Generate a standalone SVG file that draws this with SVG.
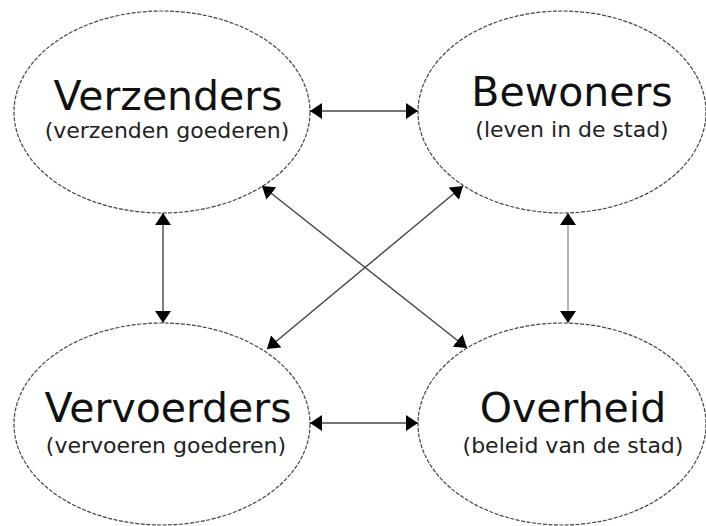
<svg xmlns="http://www.w3.org/2000/svg" width="706" height="526" viewBox="0 0 706 526">
  <style>
    .node ellipse { fill: #ffffff; stroke: #444444; stroke-width: 1.2; stroke-dasharray: 4 1.5; }
    .title { font-family: "DejaVu Sans", Verdana, sans-serif; font-size: 41px; fill: #111111; text-anchor: middle; }
    .sub { font-family: "DejaVu Sans", Verdana, sans-serif; font-size: 22px; fill: #222222; text-anchor: middle; }
    .link { stroke: #444444; stroke-width: 1.4; fill: none; marker-start: url(#head); marker-end: url(#head); }
    .light { stroke: #999999; }
  </style>
  <defs>
    <marker id="head" viewBox="0 0 12 16" refX="12" refY="8" markerWidth="12" markerHeight="16" markerUnits="userSpaceOnUse" orient="auto-start-reverse">
      <path d="M0,0 L12,8 L0,16 Z" fill="#000000"/>
    </marker>
  </defs>
  <rect width="706" height="526" fill="#ffffff"/>

  <g id="verzenders" class="node">
    <ellipse cx="162" cy="112" rx="148" ry="101"/>
    <text class="title" x="168" y="110">Verzenders</text>
    <text class="sub" x="167" y="138">(verzenden goederen)</text>
  </g>

  <g id="bewoners" class="node">
    <ellipse cx="562" cy="112" rx="144" ry="101"/>
    <text class="title" x="572" y="106">Bewoners</text>
    <text class="sub" x="572" y="137">(leven in de stad)</text>
  </g>

  <g id="vervoerders" class="node">
    <ellipse cx="162" cy="424" rx="148" ry="101"/>
    <text class="title" x="168" y="422">Vervoerders</text>
    <text class="sub" x="166" y="453">(vervoeren goederen)</text>
  </g>

  <g id="overheid" class="node">
    <ellipse cx="562" cy="424" rx="144" ry="101"/>
    <text class="title" x="573" y="422">Overheid</text>
    <text class="sub" x="573" y="453">(beleid van de stad)</text>
  </g>

  <g id="connectors">
    <line class="link" x1="310" y1="111" x2="418" y2="111"/>
    <line class="link" x1="310" y1="423" x2="418" y2="423"/>
    <line class="link" x1="163" y1="213" x2="163" y2="323"/>
    <line class="link light" x1="568" y1="213" x2="568" y2="323"/>
    <line class="link" x1="262" y1="186" x2="467" y2="348"/>
    <line class="link" x1="463" y1="186" x2="267" y2="349"/>
  </g>
</svg>
